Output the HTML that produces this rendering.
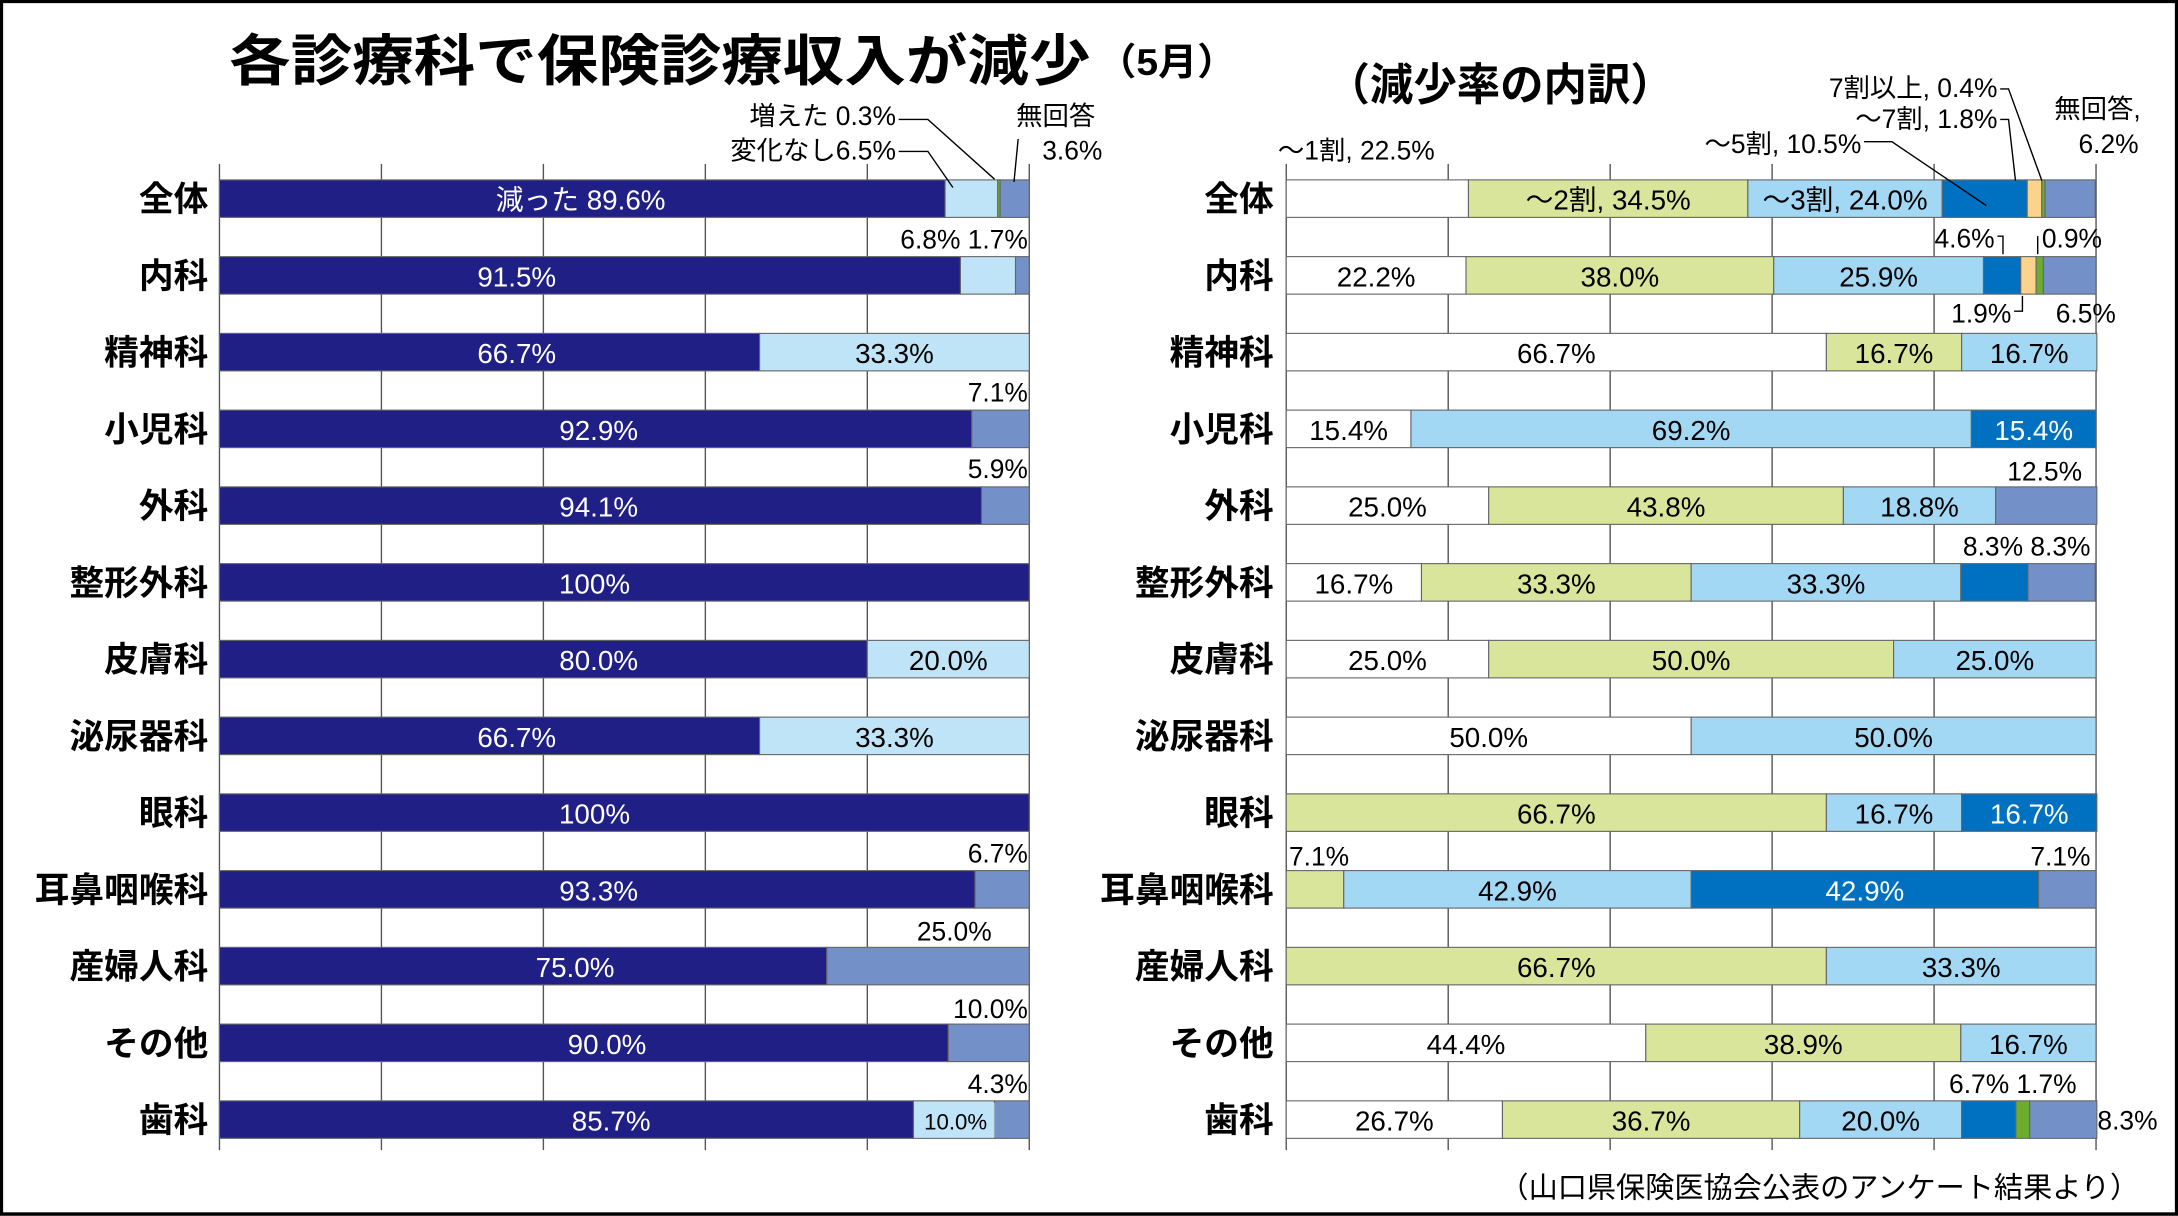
<!DOCTYPE html>
<html><head><meta charset="utf-8">
<style>
html,body{margin:0;padding:0;background:#fff;}
svg{display:block;}
text{font-family:"Liberation Sans","Noto Sans CJK JP",sans-serif;}
</style></head>
<body>
<svg id="s" width="2178" height="1216" viewBox="0 0 1568 875.4" preserveAspectRatio="none" xmlns="http://www.w3.org/2000/svg">
<rect x="1" y="1" width="1566" height="873" fill="#fff" stroke="#000" stroke-width="2.5"/>
<text x="165" y="58" font-size="40" font-weight="bold" textLength="620" lengthAdjust="spacingAndGlyphs">各診療科で保険診療収入が減少</text>
<text x="790" y="54" font-size="27" font-weight="bold" textLength="100" lengthAdjust="spacingAndGlyphs">（5月）</text>
<text x="955" y="72" font-size="32" font-weight="bold" textLength="250" lengthAdjust="spacingAndGlyphs">（減少率の内訳）</text>
<text x="1540" y="862" font-size="21" text-anchor="end" font-family="Liberation Serif,Noto Serif CJK SC,serif">（山口県保険医協会公表のアンケート結果より）</text>
<g id="g"></g>
</svg>
<script>
var NS="http://www.w3.org/2000/svg",g=document.getElementById('g');
function el(t,a,txt){var e=document.createElementNS(NS,t);for(var k in a)e.setAttribute(k,a[k]);if(txt!=null)e.textContent=txt;g.appendChild(e);return e;}
function T(x,y,s,o){o=o||{};el('text',{x:x,y:y,'font-size':o.fs||20,'text-anchor':o.a||'middle',fill:o.c||'#000','font-weight':o.w||'normal'},s);}
var names=["全体","内科","精神科","小児科","外科","整形外科","皮膚科","泌尿器科","眼科","耳鼻咽喉科","産婦人科","その他","歯科"];
var L=[[89.6,6.5,0.3,3.6],[91.5,6.8,0,1.7],[66.7,33.3,0,0],[92.9,0,0,7.1],[94.1,0,0,5.9],[100,0,0,0],[80,20,0,0],[66.7,33.3,0,0],[100,0,0,0],[93.3,0,0,6.7],[75,0,0,25],[90,0,0,10],[85.7,10,0,4.3]];
var LC=["#1f1f86","#bfe4f7","#6cad2e","#7390c8"];
var R=[[22.5,34.5,24.0,10.5,1.8,0.4,6.2],[22.2,38.0,25.9,4.6,1.9,0.9,6.5],[66.7,16.7,16.7,0,0,0,0],[15.4,0,69.2,15.4,0,0,0],[25,43.8,18.8,0,0,0,12.5],[16.7,33.3,33.3,8.3,0,0,8.3],[25,50,25,0,0,0,0],[50,0,50,0,0,0,0],[0,66.7,16.7,16.7,0,0,0],[0,7.1,42.9,42.9,0,0,7.1],[0,66.7,33.3,0,0,0,0],[44.4,38.9,16.7,0,0,0,0],[26.7,36.7,20.0,6.7,0,1.7,8.3]];
var RC=["#fff","#d9e59a","#a3d8f5","#0070c0","#fcd38a","#6cad2e","#7390c8"];
var lx=[418,372,372,431,431,428,431,372,428,431,414,437,440];
var x0=158,x1=741,X0=926,X1=1508,W=583;
for(var i=0;i<=5;i++){el('line',{x1:x0+W*i/5,y1:118,x2:x0+W*i/5,y2:828,stroke:'#555','stroke-width':1});el('line',{x1:X0+W*i/5,y1:118,x2:X0+W*i/5,y2:828,stroke:'#555','stroke-width':1});}
for(var r=0;r<13;r++){
  var cy=143+r*55.25,y=cy-13.5,h=27;
  T(150,cy+9,names[r],{a:'end',fs:25,w:'bold'});
  T(917,cy+9,names[r],{a:'end',fs:25,w:'bold'});
  var x=x0;
  for(var k=0;k<4;k++){var w=L[r][k]*W/100;if(w>0){el('rect',{x:x,y:y,width:w,height:h,fill:LC[k],stroke:'#666','stroke-width':0.8});}x+=w;}
  T(lx[r],cy+8,(r==0?"減った ":"")+(L[r][0]==100?"100":L[r][0].toFixed(1))+"%",{c:'#fff',fs:20});
  if(L[r][1]>=15){var sx=x0+L[r][0]*W/100;T(sx+L[r][1]*W/200,cy+8,L[r][1].toFixed(1)+"%",{fs:20});}
  x=X0;
  for(var k=0;k<7;k++){var w=R[r][k]*W/100;if(w>0){el('rect',{x:x,y:y,width:w,height:h,fill:RC[k],stroke:'#666','stroke-width':0.8});
    if(R[r][k]>=15&&!(r==0&&k==0)){var s=R[r][k].toFixed(1)+"%";if(r==0)s=(k==1?"～2割, ":"～3割, ")+s;T(x+w/2,cy+8,s,{c:k==3?'#fff':'#000',fs:20});}}
    x+=w;}
}
T(645,90,"増えた 0.3%",{a:'end',fs:19});T(645,115,"変化なし6.5%",{a:'end',fs:19});
T(760,90,"無回答",{fs:19});T(772,115,"3.6%",{fs:19});
el('polyline',{points:"647,86 668,86 716,129",fill:'none',stroke:'#000','stroke-width':1});
el('polyline',{points:"647,109 668,109 686,135",fill:'none',stroke:'#000','stroke-width':1});
el('line',{x1:733,y1:100,x2:730,y2:131,stroke:'#000','stroke-width':1});
T(740,179,"6.8% 1.7%",{a:'end',fs:19});
T(740,289,"7.1%",{a:'end',fs:19});T(740,344,"5.9%",{a:'end',fs:19});
T(740,621,"6.7%",{a:'end',fs:19});T(687,677,"25.0%",{fs:19});T(740,733,"10.0%",{a:'end',fs:19});T(740,787,"4.3%",{a:'end',fs:19});
el('rect',{x:660,y:794,width:56,height:25,fill:'#bfe4f7'});T(688,813,"10.0%",{fs:16});
T(920,115,"～1割, 22.5%",{a:'start',fs:19});
T(1340,110,"～5割, 10.5%",{a:'end',fs:19});
T(1438,92,"～7割, 1.8%",{a:'end',fs:19});
T(1438,70,"7割以上, 0.4%",{a:'end',fs:19});
T(1510,85,"無回答,",{fs:19});T(1518,110,"6.2%",{fs:19});
el('polyline',{points:"1342,102 1362,102 1430,148",fill:'none',stroke:'#000','stroke-width':1});
el('polyline',{points:"1440,86 1446,86 1451,130",fill:'none',stroke:'#000','stroke-width':1});
el('polyline',{points:"1440,64 1446,64 1470,130",fill:'none',stroke:'#000','stroke-width':1});
T(1436,178,"4.6%",{a:'end',fs:19});T(1470,178,"0.9%",{a:'start',fs:19});
el('polyline',{points:"1438,170 1442,170 1442,183",fill:'none',stroke:'#000','stroke-width':1});
el('polyline',{points:"1467,183 1467,170",fill:'none',stroke:'#000','stroke-width':1});
T(1448,232,"1.9%",{a:'end',fs:19});T(1480,232,"6.5%",{a:'start',fs:19});
el('polyline',{points:"1450,224 1456,224 1456,213",fill:'none',stroke:'#000','stroke-width':1});
T(1472,346,"12.5%",{fs:19});
T(1505,400,"8.3% 8.3%",{a:'end',fs:19});
T(928,623,"7.1%",{a:'start',fs:19});T(1505,623,"7.1%",{a:'end',fs:19});
T(1495,787,"6.7% 1.7%",{a:'end',fs:19});T(1510,813,"8.3%",{a:'start',fs:19});
</script>
</body></html>
